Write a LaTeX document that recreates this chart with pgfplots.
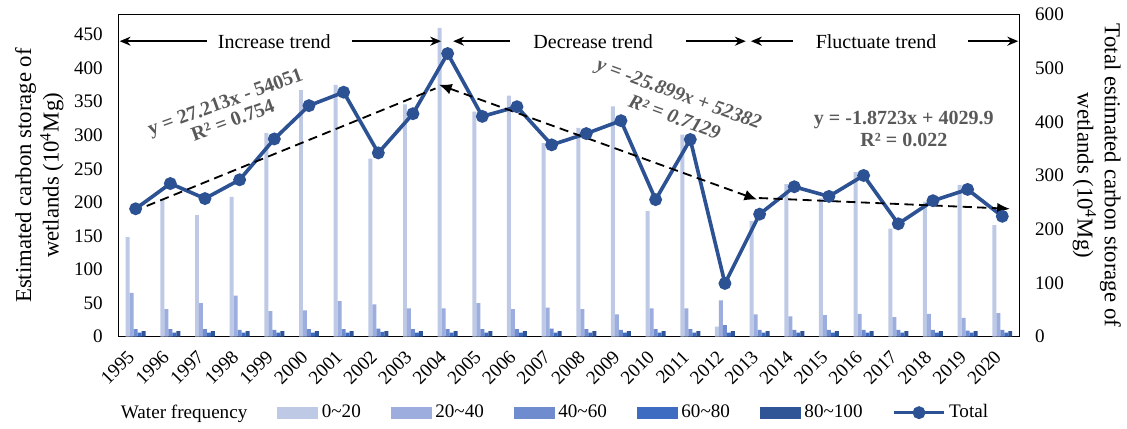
\documentclass[border=0pt]{standalone}
\usepackage{fontspec}
\setmainfont{Liberation Serif}
\usepackage{pgfplots}
\usepackage{pgfplotstable}
\pgfplotsset{compat=1.18}
\usetikzlibrary{arrows.meta}
\definecolor{c1}{HTML}{BEC9E6}
\definecolor{c2}{HTML}{9DAEDE}
\definecolor{c3}{HTML}{6F8CCF}
\definecolor{c4}{HTML}{3E6CC0}
\definecolor{c5}{HTML}{2F5597}
\definecolor{tot}{HTML}{2C5294}
\definecolor{eqgray}{HTML}{595959}

\pgfplotstableread{
year a b c d e
1995 148 65 11 6 8
1996 205 41 11 6 8
1997 181 50 11 6 8
1998 208 61 10 6 8
1999 303 38 10 6 8
2000 367 39 11 6 8
2001 375 53 11 6 8
2002 265 48 12 7 8
2003 346 42 11 6 8
2004 460 42 11 6 8
2005 335 50 11 6 8
2006 359 41 11 6 8
2007 288 43 12 6 8
2008 311 41 11 6 8
2009 343 33 10 6 8
2010 187 42 11 6 8
2011 301 42 11 6 8
2012 15 54 17 6 8
2013 172 33 10 6 8
2014 227 30 10 6 8
2015 206 32 10 6 8
2016 245 34 10 6 8
2017 161 29 10 6 8
2018 201 34 10 6 8
2019 226 28 9 6 8
2020 166 35 10 6 8
}\bars

\pgfplotstableread{
year total
1995 238
1996 285
1997 257
1998 292
1999 368
2000 430
2001 455
2002 342
2003 415
2004 527
2005 410
2006 428
2007 357
2008 378
2009 402
2010 255
2011 367
2012 99
2013 228
2014 279
2015 261
2016 300
2017 210
2018 253
2019 274
2020 224
}\totals

\pgfplotsset{
  totleg/.style={legend image code/.code={\draw[##1, mark=none] (0pt,0pt) -- (27pt,0pt); \draw[##1] plot coordinates {(13.5pt,0pt)};}},
  barleg/.style={legend image code/.code={\fill[#1] (0pt,-3pt) rectangle (22pt,3pt);}},
}

\begin{document}
\begin{tikzpicture}
\pgfplotsset{
  common/.style={
    scale only axis, width=495pt, height=177pt,
    xmin=1994.5, xmax=2020.5,
    major tick length=0pt,
    axis line style={line width=0.8pt},
    /pgf/number format/assume math mode=true,
    /pgf/number format/1000 sep={},
    tick label style={font=\fontsize{10.5}{12}\selectfont},
    label style={font=\fontsize{12.5}{15}\selectfont},
    yticklabel shift=5pt,
    clip=false,
  }
}
\begin{axis}[common,
  ymin=0, ymax=480,
  ytick={0,50,...,450},
  xtick={1995,...,2020},
  xtick pos=bottom, ytick pos=left,
  xticklabel style={rotate=45, anchor=east},
  xticklabel shift=7pt,
  ylabel={Estimated carbon storage of\\wetlands (10\textsuperscript{4}Mg)},
  ylabel style={align=center, yshift=-1pt},
]
\addplot[ybar, bar width=0.115, bar shift=-0.23, fill=c1, draw=none] table[x=year, y=a] {\bars};
\addplot[ybar, bar width=0.115, bar shift=-0.115, fill=c2, draw=none] table[x=year, y=b] {\bars};
\addplot[ybar, bar width=0.115, bar shift=0, fill=c3, draw=none] table[x=year, y=c] {\bars};
\addplot[ybar, bar width=0.115, bar shift=0.115, fill=c4, draw=none] table[x=year, y=d] {\bars};
\addplot[ybar, bar width=0.115, bar shift=0.23, fill=c5, draw=none] table[x=year, y=e] {\bars};
\end{axis}

\begin{axis}[common,
  ymin=0, ymax=600,
  ytick={0,100,...,600},
  axis y line*=right, axis x line=none,
  ylabel={Total estimated carbon storage of\\wetlands (10\textsuperscript{4}Mg)},
  ylabel style={align=center, rotate=180, yshift=-2pt},
  legend columns=7,
  legend style={at={(0.484,-0.236)}, anchor=center, draw=none, fill=none,
    font=\fontsize{10.5}{12}\selectfont,
    /tikz/every even column/.append style={column sep=14.5pt}},
]
\addlegendimage{empty legend}
\addlegendentry{Water frequency\hspace{4pt}}
\addlegendimage{barleg=c1}
\addlegendentry{0\textasciitilde 20}
\addlegendimage{barleg=c2}
\addlegendentry{20\textasciitilde 40}
\addlegendimage{barleg=c3}
\addlegendentry{40\textasciitilde 60}
\addlegendimage{barleg=c4}
\addlegendentry{60\textasciitilde 80}
\addlegendimage{barleg=c5}
\addlegendentry{80\textasciitilde 100}
\addplot[tot, line width=2pt, mark=*, mark size=2.5pt, mark options={solid, fill=tot}, totleg]
  table[x=year, y=total] {\totals};
\addlegendentry{Total}

% trend lines
\addplot[forget plot, black, dash pattern=on 5pt off 3pt, line width=1pt] coordinates {(1994.93,233) (2003.65,462)};
\addplot[forget plot, black, dash pattern=on 5pt off 3pt, line width=1pt, {Latex[length=7pt,width=6pt]}-{Latex[length=7pt,width=6pt]}] coordinates {(2003.75,469) (2012.93,255)};
\addplot[forget plot, black, dash pattern=on 5pt off 3pt, line width=1pt, -{Latex[length=7pt,width=6pt]}] coordinates {(2012.98,258) (2020.22,238)};

% equations
\node[text=eqgray, font=\bfseries\fontsize{11}{13}\selectfont, rotate=20] at (axis cs:1997.6,434) {y = 27.213x - 54051};
\node[text=eqgray, font=\bfseries\fontsize{11}{13}\selectfont, rotate=20] at (axis cs:1997.8,403) {R² = 0.754};
\node[text=eqgray, font=\bfseries\itshape\fontsize{11}{13}\selectfont, rotate=-20] at (axis cs:2010.66,449) {y = -25.899x + 52382};
\node[text=eqgray, font=\bfseries\itshape\fontsize{11}{13}\selectfont, rotate=-20] at (axis cs:2010.55,409) {R² = 0.7129};
\node[text=eqgray, font=\bfseries\fontsize{11}{13}\selectfont] at (axis cs:2017.16,404) {y = -1.8723x + 4029.9};
\node[text=eqgray, font=\bfseries\fontsize{11}{13}\selectfont] at (axis cs:2017.16,367) {R² = 0.022};

% period arrows
\draw[line width=0.8pt, {Stealth[length=6pt,width=5pt]}-] (axis cs:1994.54,550) -- (axis cs:1997.05,550);
\draw[line width=0.8pt, -{Stealth[length=6pt,width=5pt]}] (axis cs:2001.24,550) -- (axis cs:2003.81,550);
\node[font=\fontsize{11}{13}\selectfont] at (axis cs:1999.0,550) {Increase trend};
\draw[line width=0.8pt, {Stealth[length=6pt,width=5pt]}-] (axis cs:2004.16,550) -- (axis cs:2005.81,550);
\draw[line width=0.8pt, -{Stealth[length=6pt,width=5pt]}] (axis cs:2010.87,550) -- (axis cs:2012.6,550);
\node[font=\fontsize{11}{13}\selectfont] at (axis cs:2008.2,550) {Decrease trend};
\draw[line width=0.8pt, {Stealth[length=6pt,width=5pt]}-] (axis cs:2012.75,550) -- (axis cs:2013.96,550);
\draw[line width=0.8pt, -{Stealth[length=6pt,width=5pt]}] (axis cs:2019.02,550) -- (axis cs:2020.46,550);
\node[font=\fontsize{11}{13}\selectfont] at (axis cs:2016.36,550) {Fluctuate trend};
\end{axis}
\path ([xshift=-5pt]current bounding box.west);
\path ([yshift=1pt]current bounding box.north);
\end{tikzpicture}
\end{document}
